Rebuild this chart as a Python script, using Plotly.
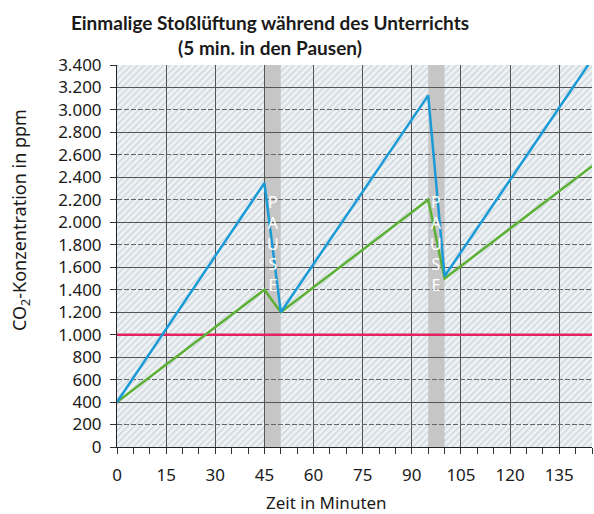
import base64
import plotly.graph_objects as go

# ---- data ----
time_min = [0, 45, 50, 95, 100, 145]
co2_blue = [400, 2350, 1200, 3130, 1520, 3450]
co2_green = [400, 1400, 1200, 2200, 1500, 2500]
limit_x = [0, 145]
limit_y = [1000, 1000]
pauses = [(45, 50), (95, 100)]
pause_label = "P<br>A<br>U<br>S<br>E"
y_tickvals = list(range(0, 3401, 200))
y_ticktext = [f"{v:,}".replace(",", ".") for v in y_tickvals]
x_tickvals = list(range(0, 136, 15))

X_RANGE = [0, 145]
Y_RANGE = [0, 3400]

W, H = 594, 514
ML, MR, MT, MB = 117, 2, 65, 67
PW, PH = W - ML - MR, H - MT - MB

# hatched background as an SVG image
svg = f'''<svg xmlns="http://www.w3.org/2000/svg" width="{PW}" height="{PH}">
<defs><pattern id="p" width="4.6" height="10" patternUnits="userSpaceOnUse" patternTransform="rotate(45)">
<rect width="4.6" height="10" fill="#f0f3f5"/><rect width="2" height="10" fill="#d5dde2"/></pattern></defs>
<rect width="{PW}" height="{PH}" fill="url(#p)"/></svg>'''
img_src = "data:image/svg+xml;base64," + base64.b64encode(svg.encode()).decode()

fig = go.Figure()
fig.add_trace(go.Scatter(x=limit_x, y=limit_y, mode="lines",
                         line=dict(color="#e3225f", width=2.5), name="Grenzwert",
                         hoverinfo="skip"))
fig.add_trace(go.Scatter(x=time_min, y=co2_green, mode="lines",
                         line=dict(color="#5cb036", width=2.5), name="Stoßlüftung"))
fig.add_trace(go.Scatter(x=time_min, y=co2_blue, mode="lines",
                         line=dict(color="#1a9bd7", width=2.5), name="ohne Lüftung"))
# invisible trace for the overlay axis that carries the solid grid lines
fig.add_trace(go.Scatter(x=[X_RANGE[0]], y=[Y_RANGE[0]], yaxis="y2", mode="markers",
                         marker=dict(opacity=0), showlegend=False, hoverinfo="skip"))

for a, b in pauses:
    fig.add_shape(type="rect", xref="x", yref="paper", x0=a, x1=b, y0=0, y1=1,
                  fillcolor="#c6c6c6", line=dict(width=0), layer="between")
    fig.add_annotation(x=(a + b) / 2, y=1810, xref="x", yref="y", text=pause_label,
                       showarrow=False, font=dict(color="white", size=16,
                                                  family="Noto Sans"))

fig.add_layout_image(source=img_src, xref="paper", yref="paper", x=0, y=1,
                     sizex=1, sizey=1, sizing="stretch", xanchor="left",
                     yanchor="top", layer="below")

tick_font = dict(family="Noto Sans", size=17, color="#1a1a1a")

# axis titles as annotations (offset like in the reference)
fig.add_annotation(text="CO<sub>2</sub>-Konzentration in ppm", textangle=-90,
                   xref="paper", yref="paper", x=(20 - ML) / PW, y=(447 - 220) / PH,
                   xanchor="center", yanchor="middle", showarrow=False,
                   font=dict(family="Noto Sans", size=18, color="#1a1a1a"))
fig.add_annotation(text="Zeit in Minuten",
                   xref="paper", yref="paper", x=(326 - ML) / PW, y=(447 - 502) / PH,
                   xanchor="center", yanchor="middle", showarrow=False,
                   font=tick_font)

fig.update_layout(
    width=W, height=H,
    margin=dict(l=ML, r=MR, t=MT, b=MB, autoexpand=False),
    paper_bgcolor="white", plot_bgcolor="rgba(0,0,0,0)",
    showlegend=False,
    title=dict(text="Einmalige Stoßlüftung während des Unterrichts<br>(5 min. in den Pausen)",
               x=270 / W, xanchor="center", xref="container",
               y=1 - 30 / H, yanchor="middle", yref="container",
               font=dict(family="Lato", size=19, color="#1a1a1a", weight="bold")),
    xaxis=dict(range=X_RANGE, tickmode="array", tickvals=x_tickvals,
               ticks="outside", ticklen=6, tickcolor="#333", tickwidth=1,
               minor=dict(dtick=5, tick0=0, ticks="outside", ticklen=6,
                          tickcolor="#333", showgrid=False),
               showline=True, linecolor="#222", linewidth=1,
               showgrid=True, gridcolor="#555", gridwidth=1, automargin=False,
               zeroline=False, tickfont=tick_font, ticklabelstandoff=7),
    yaxis=dict(range=Y_RANGE, tickmode="array", tickvals=y_tickvals,
               ticktext=y_ticktext, ticks="outside", ticklen=6, automargin=False,
               tickcolor="#333", showline=True, linecolor="#222", linewidth=1,
               showgrid=True, gridcolor="#666", griddash="5px,2px", gridwidth=1,
               zeroline=False, tickfont=tick_font, ticklabelstandoff=5),
    yaxis2=dict(range=Y_RANGE, overlaying="y", side="left", tickmode="linear",
                tick0=0, dtick=400, showticklabels=False, ticks="",
                showgrid=True, gridcolor="#555", gridwidth=1, zeroline=False,
                showline=False, automargin=False),
)

fig.write_html("out.html", config={"displayModeBar": False},
               post_script="document.body.style.margin='0';document.body.style.overflow='hidden';")
